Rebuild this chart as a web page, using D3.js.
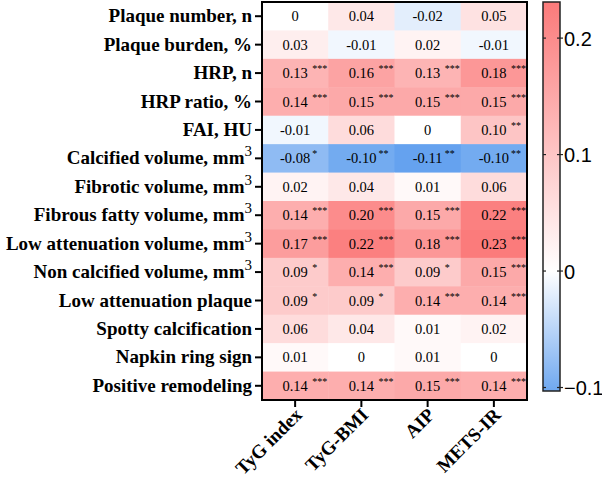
<!DOCTYPE html>
<html>
<head>
<meta charset="utf-8">
<script src="https://cdn.jsdelivr.net/npm/d3@7"></script>
<style>
  body { margin: 0; background: #fff; }
  svg { display: block; }
</style>
</head>
<body>
<svg id="chart" width="602" height="484"></svg>
<script>
// rows (y) and columns (x)
const rowLabels = [
    "Plaque number, n", "Plaque burden, %", "HRP, n", "HRP ratio, %", "FAI, HU",
    "Calcified volume, mm|3", "Fibrotic volume, mm|3", "Fibrous fatty volume, mm|3",
    "Low attenuation volume, mm|3", "Non calcified volume, mm|3", "Low attenuation plaque",
    "Spotty calcification", "Napkin ring sign", "Positive remodeling"
];
const colLabels = ["TyG index", "TyG-BMI", "AIP", "METS-IR"];

// correlation coefficients, one array per row
const values = [
    [0, 0.04, -0.02, 0.05],
    [0.03, -0.01, 0.02, -0.01],
    [0.13, 0.16, 0.13, 0.18],
    [0.14, 0.15, 0.15, 0.15],
    [-0.01, 0.06, 0, 0.10],
    [-0.08, -0.10, -0.11, -0.10],
    [0.02, 0.04, 0.01, 0.06],
    [0.14, 0.20, 0.15, 0.22],
    [0.17, 0.22, 0.18, 0.23],
    [0.09, 0.14, 0.09, 0.15],
    [0.09, 0.09, 0.14, 0.14],
    [0.06, 0.04, 0.01, 0.02],
    [0.01, 0, 0.01, 0],
    [0.14, 0.14, 0.15, 0.14]
];

// significance marks
const stars = [
    ["", "", "", ""],
    ["", "", "", ""],
    ["***", "***", "***", "***"],
    ["***", "***", "***", "***"],
    ["", "", "", "**"],
    ["*", "**", "**", "**"],
    ["", "", "", ""],
    ["***", "***", "***", "***"],
    ["***", "***", "***", "***"],
    ["*", "***", "*", "***"],
    ["*", "*", "***", "***"],
    ["", "", "", ""],
    ["", "", "", ""],
    ["***", "***", "***", "***"]
];

const colorDomain = [-0.103, 0, 0.231];
const colorTicks = [-0.1, 0, 0.1, 0.2];

const svg = d3.select("#chart");
const plot = { left: 262, top: 2, right: 527, bottom: 400 };
const serif = "'Liberation Serif', 'Times New Roman', serif";

const x = d3.scaleBand().domain(colLabels).range([plot.left, plot.right]);
const y = d3.scaleBand().domain(rowLabels).range([plot.top, plot.bottom]);
const color = d3.scaleLinear().domain(colorDomain).range(["#6fa8f0", "#ffffff", "#fb7a7a"]);

const cells = [];
values.forEach((row, i) => row.forEach((v, j) => {
    cells.push({ row: rowLabels[i], col: colLabels[j], v, star: stars[i][j] });
}));

const fmt = v => v === 0 ? "0" : v.toFixed(2);

svg.append("g").selectAll("rect")
    .data(cells)
    .join("rect")
    .attr("x", d => x(d.col))
    .attr("y", d => y(d.row))
    .attr("width", x.bandwidth() + 0.5)
    .attr("height", y.bandwidth() + 0.5)
    .attr("fill", d => color(d.v));

const txt = svg.append("g").style("font-family", serif);

txt.selectAll("text.val")
    .data(cells)
    .join("text")
    .attr("class", "val")
    .attr("x", d => x(d.col) + x.bandwidth() / 2)
    .attr("y", d => y(d.row) + y.bandwidth() / 2 + 5)
    .attr("text-anchor", "middle")
    .style("font-size", "14.5px")
    .text(d => fmt(d.v));

txt.selectAll("text.star")
    .data(cells.filter(d => d.star))
    .join("text")
    .attr("class", "star")
    .attr("x", d => x(d.col) + x.bandwidth() / 2 + 17)
    .attr("y", d => y(d.row) + y.bandwidth() / 2 - 1)
    .style("font-size", "10px")
    .text(d => d.star);

// frame
svg.append("rect")
    .attr("x", plot.left)
    .attr("y", plot.top)
    .attr("width", plot.right - plot.left)
    .attr("height", plot.bottom - plot.top)
    .attr("fill", "none")
    .attr("stroke", "#000")
    .attr("stroke-width", 2);

// y axis
const yAxis = svg.append("g")
    .attr("transform", `translate(${plot.left - 1},0)`)
    .call(d3.axisLeft(y).tickSize(6).tickFormat(""));
yAxis.select(".domain").remove();
yAxis.selectAll(".tick line").attr("stroke", "#000").attr("stroke-width", 2);

const yLab = svg.append("g")
    .style("font-family", serif)
    .style("font-weight", "bold")
    .style("font-size", "19px");
yLab.selectAll("text")
    .data(rowLabels)
    .join("text")
    .attr("x", plot.left - 10)
    .attr("y", d => y(d) + y.bandwidth() / 2 + 6)
    .attr("text-anchor", "end")
    .each(function(d) {
        const parts = d.split("|");
        const t = d3.select(this);
        t.append("tspan").text(parts[0]);
        if (parts[1]) {
            t.append("tspan").attr("dy", -8).style("font-size", "15px").style("font-weight", "normal").text(parts[1]);
        }
    });

// x axis
const xAxis = svg.append("g")
    .attr("transform", `translate(0,${plot.bottom + 1})`)
    .call(d3.axisBottom(x).tickSize(6).tickFormat(""));
xAxis.select(".domain").remove();
xAxis.selectAll(".tick line").attr("stroke", "#000").attr("stroke-width", 2);

svg.append("g")
    .style("font-family", serif)
    .style("font-weight", "bold")
    .style("font-size", "19px")
    .selectAll("text")
    .data(colLabels)
    .join("text")
    .attr("text-anchor", "end")
    .attr("transform", d => `translate(${x(d) + x.bandwidth() / 2 + 8},${plot.bottom + 16}) rotate(-45)`)
    .text(d => d);

// colour bar
const bar = { x: 543, w: 17, top: 2, bottom: 391 };
const cScale = d3.scaleLinear().domain([colorDomain[0], colorDomain[2]]).range([bar.bottom, bar.top]);

const defs = svg.append("defs");
const grad = defs.append("linearGradient")
    .attr("id", "cbar")
    .attr("x1", 0).attr("y1", 1).attr("x2", 0).attr("y2", 0);
grad.selectAll("stop")
    .data(colorDomain)
    .join("stop")
    .attr("offset", d => (d - colorDomain[0]) / (colorDomain[2] - colorDomain[0]))
    .attr("stop-color", d => color(d));

svg.append("rect")
    .attr("x", bar.x)
    .attr("y", bar.top)
    .attr("width", bar.w)
    .attr("height", bar.bottom - bar.top)
    .attr("fill", "url(#cbar)")
    .attr("stroke", "#222")
    .attr("stroke-width", 1.5);

const cb = svg.append("g");
cb.selectAll("line.l")
    .data(colorTicks)
    .join("line")
    .attr("x1", bar.x).attr("x2", bar.x + 3)
    .attr("y1", d => cScale(d)).attr("y2", d => cScale(d))
    .attr("stroke", "#222").attr("stroke-width", 1.2);
cb.selectAll("line.r")
    .data(colorTicks)
    .join("line")
    .attr("x1", bar.x + bar.w - 3).attr("x2", bar.x + bar.w + 3)
    .attr("y1", d => cScale(d)).attr("y2", d => cScale(d))
    .attr("stroke", "#222").attr("stroke-width", 1.2);
cb.selectAll("text")
    .data(colorTicks)
    .join("text")
    .attr("x", bar.x + bar.w + 4)
    .attr("y", d => cScale(d) + 7.5)
    .style("font-family", "'Liberation Sans', Arial, sans-serif")
    .style("font-size", "20px")
    .text(d => d === 0 ? "0" : d3.format(".1f")(d));
</script>
</body>
</html>
